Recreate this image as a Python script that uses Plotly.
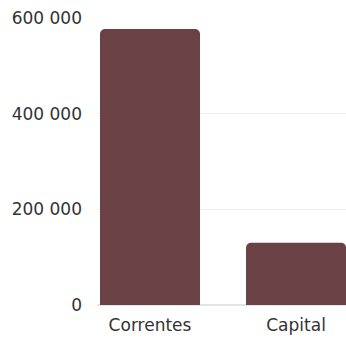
import plotly.graph_objects as go

categories = ["Correntes", "Capital"]
values = [577000, 130000]
tick_vals = [0, 200000, 400000, 600000]
tick_text = ["0", "200 000", "400 000", "600 000"]

fig = go.Figure(go.Bar(
    x=list(range(len(categories))),
    y=values,
    width=0.685,
    marker=dict(color="#6a4145", cornerradius=5, line=dict(width=0)),
))

fig.update_layout(
    width=346, height=341,
    margin=dict(l=97, r=0, t=18, b=36),
    paper_bgcolor="white", plot_bgcolor="white",
    font=dict(family="DejaVu Sans, sans-serif", size=17, color="#333"),
    showlegend=False,
)
fig.update_xaxes(
    tickvals=list(range(len(categories))), ticktext=categories,
    range=[-0.363, 1.342], showgrid=False, showline=False, zeroline=False,
    ticks="", ticklabelstandoff=8,
)
fig.update_yaxes(
    range=[0, 600000], tickvals=tick_vals, ticktext=tick_text,
    showgrid=True, gridcolor="#eeeeee", gridwidth=1,
    zeroline=True, zerolinecolor="#e4e4e4", showline=False,
    ticks="", ticklabelstandoff=14,
)

fig.write_html("out.html")
